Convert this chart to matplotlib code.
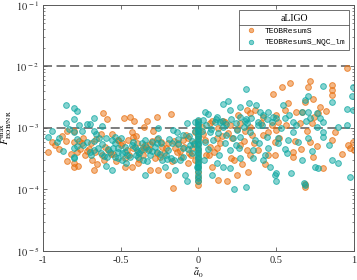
"""
max unfaithfulness vs spin, aLIGO noise
"""
import numpy as np, matplotlib
matplotlib.use("Agg")
import matplotlib.pyplot as plt
from matplotlib.lines import Line2D
from matplotlib.colors import to_rgba

plt.rcParams.update({
    "font.family": "serif", "font.serif": ["Liberation Serif", "DejaVu Serif"],
    "mathtext.fontset": "stix", "font.size": 7.5,
    "xtick.direction": "in", "ytick.direction": "in",
    "xtick.top": True, "ytick.right": True,
})

C = {"teob": "#E8700F", "nqc": "#0FA8A2", "frame": "0.35", "dash": "0.45"}

# ── Data: TEOBResumS (orange) ───────────────────────────────────────────
a0_teob = [
    -0.617, -0.59, -0.843, -0.80, -0.85, -0.944, -0.965, -0.897, -0.80, -0.77,
    -0.744, -0.75, -0.843, -0.80, -0.80, -0.776, -0.76, -0.718, -0.707, -0.686,
    -0.669, -0.654, -0.621, -0.61, -0.579, -0.557, -0.52, -0.63, -0.78, -0.665,
    -0.477, -0.44, -0.415, -0.333, -0.265, -0.18, -0.43, -0.35, -0.295, -0.516,
    -0.452, -0.419, -0.398, -0.387, -0.344, -0.301, -0.269, -0.237, -0.194, -0.129,
    -0.097, -0.065, -0.043, -0.021, -0.473, -0.43, -0.387, -0.312, -0.258, -0.194,
    -0.161, -0.065, -0.46, -0.36, -0.28, -0.22, -0.15, -0.11, -0.08, -0.03,
    -0.50, -0.40, -0.32, -0.24, -0.17, -0.12, -0.05, -0.55, -0.47, -0.36,
    -0.92, -0.88, -0.82, -0.73, -0.69, -0.66, -0.60, -0.56, -0.53, -0.49,
    -0.45, -0.42, -0.38, -0.35, -0.31, -0.27, -0.25, -0.21, -0.16, -0.14,
    -0.09, -0.06, -0.02,
    0.0, 0.0, 0.0, 0.0, 0.0, 0.0, 0.0, 0.0, 0.0, 0.0, 0.0, 0.0, 0.0, 0.0, 0.0,
    0.482, 0.31, 0.364, 0.256, 0.331, 0.417, 0.073, 0.127, 0.202, 0.267,
    0.299, 0.116, 0.073, 0.213, 0.267, 0.31, 0.331, 0.385, 0.45, 0.084,
    0.127, 0.181, 0.245, 0.32, 0.492, 0.417, 0.45, 0.342, 0.03, 0.05,
    0.16, 0.10, 0.23, 0.28, 0.14, 0.19,
    0.02, 0.04, 0.07, 0.09, 0.12, 0.15, 0.17, 0.21, 0.25, 0.29,
    0.33, 0.36, 0.40, 0.43, 0.47,
    0.953, 0.587, 0.534, 0.705, 0.716, 0.856, 0.856, 0.856, 0.576, 0.684,
    0.738, 0.78, 0.663, 0.63, 0.555, 0.77, 0.501, 0.512, 0.652, 0.727,
    0.501, 0.716, 0.759, 0.856, 0.963, 0.974, 0.995, 1.0, 0.608, 0.608,
    0.738, 0.802, 0.49, 0.684, 0.684,
    0.52, 0.56, 0.62, 0.66, 0.70, 0.74, 0.82, 0.88, 0.92,
]
F_teob = [
    1.77e-3, 1.38e-3, 8.9e-4, 8.9e-4, 6.1e-4, 6.0e-4, 4.1e-4, 4.5e-4, 6.0e-4, 6.2e-4,
    7.0e-4, 5.6e-4, 2.95e-4, 2.67e-4, 2.3e-4, 2.45e-4, 4.5e-4, 4.3e-4, 4.5e-4, 3.0e-4,
    2.1e-4, 2.6e-4, 3.6e-4, 3.0e-4, 4.4e-4, 8.0e-4, 6.4e-4, 8.0e-4, 4.1e-4, 4.1e-4,
    1.43e-3, 1.49e-3, 1.3e-3, 1.3e-3, 1.5e-3, 1.7e-3, 8.7e-4, 1.05e-3, 8.9e-4, 6.4e-4,
    6.4e-4, 4.7e-4, 5.6e-4, 4.1e-4, 5.3e-4, 6.2e-4, 3.9e-4, 5.0e-4, 5.6e-4, 5.6e-4,
    6.4e-4, 6.8e-4, 4.7e-4, 3.0e-4, 2.35e-4, 2.35e-4, 2.67e-4, 2.1e-4, 2.1e-4, 1.72e-4,
    1.05e-4, 2.67e-4, 4.4e-4, 3.6e-4, 3.3e-4, 3.9e-4, 4.8e-4, 3.4e-4, 7.8e-4, 5.6e-4,
    5.3e-4, 7.4e-4, 4.6e-4, 6.0e-4, 2.9e-4, 4.2e-4, 3.6e-4, 3.8e-4, 3.2e-4, 5.0e-4,
    5.2e-4, 7.5e-4, 3.8e-4, 3.6e-4, 5.6e-4, 6.6e-4, 5.0e-4, 3.8e-4, 2.9e-4, 5.8e-4,
    3.6e-4, 7.2e-4, 3.1e-4, 4.6e-4, 5.4e-4, 6.6e-4, 3.4e-4, 4.8e-4, 6.2e-4, 4.0e-4,
    5.0e-4, 3.9e-4, 8.5e-4,
    1.3e-3, 1.1e-3, 9.0e-4, 7.5e-4, 6.5e-4, 5.5e-4, 4.6e-4, 3.9e-4, 3.3e-4, 2.8e-4,
    2.35e-4, 1.95e-4, 1.6e-4, 1.35e-4, 1.2e-4,
    3.6e-3, 1.96e-3, 1.96e-3, 1.63e-3, 1.73e-3, 1.53e-3, 1.19e-3, 9.9e-4, 1.12e-3, 1.19e-3,
    9.0e-4, 6.8e-4, 5.0e-4, 6.8e-4, 5.3e-4, 4.4e-4, 3.6e-4, 4.4e-4, 3.6e-4, 2.35e-4,
    1.43e-4, 1.35e-4, 1.72e-4, 1.95e-4, 6.0e-4, 7.7e-4, 8.7e-4, 7.7e-4, 8.0e-4, 3.6e-4,
    1.3e-3, 4.0e-4, 3.0e-4, 2.6e-4, 5.8e-4, 8.2e-4,
    1.05e-3, 6.4e-4, 3.6e-4, 1.3e-3, 4.8e-4, 7.4e-4, 1.25e-3, 3.2e-4, 9.5e-4, 6.2e-4,
    1.05e-3, 5.6e-4, 1.2e-3, 2.6e-4, 1.1e-3,
    9.3e-3, 5.3e-3, 4.6e-3, 4.7e-3, 5.8e-3, 5.0e-3, 4.15e-3, 3.4e-3, 2.52e-3, 2.68e-3,
    3.0e-3, 2.22e-3, 1.84e-3, 1.8e-3, 1.96e-3, 1.73e-3, 1.63e-3, 1.26e-3, 1.19e-3, 1.19e-3,
    9.3e-4, 6.0e-4, 5.1e-4, 6.4e-4, 5.3e-4, 4.7e-4, 6.0e-4, 4.4e-4, 4.1e-4, 3.4e-4,
    3.4e-4, 2.2e-4, 3.6e-4, 1.1e-4, 1.25e-4,
    7.0e-4, 1.1e-3, 6.2e-4, 4.6e-4, 8.8e-4, 1.5e-3, 1.9e-3, 8.5e-4, 3.8e-4,
]

# ── Data: TEOBResumS_NQC_lm (teal) ──────────────────────────────────────
a0_nqc = [
    -0.85, -0.80, -0.78, -0.85, -0.80, -0.77, -0.75, -0.72, -0.70, -0.675,
    -0.62, -0.94, -0.965, -0.90, -0.80, -0.675, -0.675, -0.64, -0.595, -0.557,
    -0.535, -0.80, -0.78, -0.80, -0.74, -0.70, -0.675, -0.645, -0.63, -0.61,
    -0.59, -0.57, -0.55, -0.535, -0.515, -0.595, -0.557, -0.80,
    -0.516, -0.495, -0.473, -0.44, -0.419, -0.398, -0.366, -0.355, -0.344, -0.323,
    -0.312, -0.28, -0.258, -0.237, -0.215, -0.194, -0.172, -0.161, -0.14, -0.15,
    -0.118, -0.097, -0.086, -0.075, -0.075, -0.054, -0.043, -0.021, -0.011, -0.495,
    -0.463, -0.387, -0.258, -0.344, -0.46, -0.41, -0.30, -0.25, -0.20, -0.13,
    -0.10, -0.06, -0.03, -0.52, -0.38, -0.33, -0.27, -0.18,
    -0.91, -0.87, -0.83, -0.78, -0.72, -0.69, -0.66, -0.62, -0.58, -0.54,
    -0.50, -0.47, -0.43, -0.40, -0.37, -0.34, -0.30, -0.27, -0.24, -0.21,
    -0.19, -0.16, -0.13, -0.10, -0.07, -0.04, -0.02,
    0.0, 0.0, 0.0, 0.0, 0.0, 0.0, 0.0, 0.0, 0.0, 0.0, 0.0, 0.0, 0.0, 0.0,
    0.0, 0.0, 0.0, 0.0, 0.0, 0.0, 0.0, 0.0, 0.0, 0.0, 0.0, 0.0,
    0.305, 0.159, 0.187, 0.041, 0.062, 0.202, 0.267, 0.327, 0.37, 0.396,
    0.45, 0.305, 0.31, 0.417, 0.482, 0.105, 0.137, 0.155, 0.073, 0.127,
    0.041, 0.095, 0.17, 0.202, 0.267, 0.116, 0.159, 0.202, 0.084, 0.228,
    0.305, 0.353, 0.364, 0.439, 0.45, 0.417, 0.46, 0.492, 0.331, 0.385,
    0.245, 0.267, 0.02, 0.06, 0.13, 0.18, 0.24, 0.29, 0.035, 0.11,
    0.03, 0.05, 0.08, 0.12, 0.15, 0.18, 0.21, 0.24, 0.27, 0.30,
    0.34, 0.38, 0.41, 0.44, 0.47, 0.22, 0.26, 0.35, 0.39, 0.43,
    0.802, 0.995, 0.856, 0.953, 0.995, 0.705, 0.684, 0.544, 0.663, 0.705,
    0.759, 0.501, 0.555, 0.608, 0.716, 0.802, 0.63, 0.759, 0.953, 0.802,
    0.802, 0.705, 0.608, 0.576, 0.512, 0.512, 0.555, 0.566, 0.663, 0.748,
    0.77, 0.856, 0.899, 0.974, 0.501, 0.501, 0.598, 0.684, 0.985, 0.68,
    0.53, 0.58, 0.64, 0.69, 0.73, 0.78, 0.84, 0.90,
]
F_nqc = [
    2.37e-3, 2.15e-3, 1.9e-3, 1.2e-3, 1.38e-3, 1.12e-3, 8.9e-4, 1.15e-3, 1.15e-3, 1.43e-3,
    1.09e-3, 8.8e-4, 7.1e-4, 6.8e-4, 8.7e-4, 9.0e-4, 6.2e-4, 6.8e-4, 6.8e-4, 6.4e-4,
    7.1e-4, 4.8e-4, 5.1e-4, 3.2e-4, 5.3e-4, 4.0e-4, 4.4e-4, 4.7e-4, 3.9e-4, 3.5e-4,
    3.4e-4, 4.1e-4, 4.7e-4, 3.4e-4, 3.2e-4, 2.4e-4, 2.1e-4, 3.4e-4,
    4.7e-4, 3.9e-4, 5.0e-4, 3.4e-4, 6.0e-4, 4.4e-4, 5.6e-4, 3.0e-4, 1.72e-4, 4.4e-4,
    3.6e-4, 5.0e-4, 6.8e-4, 3.0e-4, 2.35e-4, 4.4e-4, 5.6e-4, 9.3e-4, 8.7e-4, 2.1e-4,
    3.0e-4, 3.4e-4, 1.72e-4, 1.35e-4, 1.19e-3, 5.3e-4, 3.9e-4, 1.26e-3, 2.35e-4, 3.0e-4,
    2.67e-4, 3.4e-4, 9.9e-4, 6.4e-4, 3.7e-4, 4.9e-4, 4.2e-4, 3.8e-4, 3.1e-4, 6.6e-4,
    4.7e-4, 7.3e-4, 5.4e-4, 4.1e-4, 3.9e-4, 2.9e-4, 5.8e-4, 3.2e-4,
    6.0e-4, 4.2e-4, 9.6e-4, 6.6e-4, 6.0e-4, 3.6e-4, 8.0e-4, 5.4e-4, 4.6e-4, 5.8e-4,
    6.8e-4, 4.0e-4, 5.2e-4, 3.6e-4, 4.4e-4, 5.0e-4, 6.0e-4, 4.0e-4, 5.6e-4, 3.6e-4,
    6.6e-4, 3.0e-4, 5.4e-4, 7.8e-4, 4.6e-4, 6.2e-4, 9.0e-4,
    1.35e-3, 1.25e-3, 1.15e-3, 1.05e-3, 9.6e-4, 8.8e-4, 8.0e-4, 7.4e-4, 6.8e-4, 6.2e-4,
    5.7e-4, 5.2e-4, 4.8e-4, 4.4e-4, 4.0e-4, 3.7e-4, 3.4e-4, 3.1e-4, 2.8e-4, 2.6e-4,
    2.4e-4, 2.2e-4, 2.0e-4, 1.75e-4, 1.55e-4, 1.4e-4,
    4.25e-3, 2.45e-3, 2.78e-3, 1.84e-3, 1.67e-3, 1.96e-3, 2.22e-3, 2.52e-3, 2.37e-3, 1.84e-3,
    1.84e-3, 1.38e-3, 1.19e-3, 1.63e-3, 1.53e-3, 1.26e-3, 1.26e-3, 1.05e-3, 8.7e-4, 8.2e-4,
    6.0e-4, 6.4e-4, 5.6e-4, 4.4e-4, 3.2e-4, 2.67e-4, 2.35e-4, 2.2e-4, 1.72e-4, 1.0e-4,
    1.1e-4, 3.2e-4, 6.4e-4, 7.2e-4, 4.7e-4, 3.0e-4, 2.35e-4, 1.72e-4, 8.7e-4, 1.12e-3,
    9.3e-4, 7.2e-4, 9.0e-4, 4.5e-4, 3.6e-4, 7.8e-4, 5.2e-4, 1.02e-3, 3.0e-4, 1.4e-3,
    1.35e-3, 1.1e-3, 9.5e-4, 1.5e-3, 1.3e-3, 1.15e-3, 1.4e-3, 1.2e-3, 1.5e-3, 1.3e-3,
    1.45e-3, 1.25e-3, 1.1e-3, 1.4e-3, 1.25e-3, 6.8e-4, 4.8e-4, 4.4e-4, 5.6e-4, 3.6e-4,
    4.8e-3, 4.6e-3, 2.68e-3, 2.0e-3, 1.96e-3, 3.3e-3, 2.85e-3, 2.37e-3, 1.84e-3, 1.84e-3,
    1.73e-3, 1.43e-3, 1.43e-3, 1.26e-3, 1.43e-3, 1.26e-3, 1.12e-3, 1.05e-3, 1.12e-3, 8.7e-4,
    7.2e-4, 6.8e-4, 8.7e-4, 6.4e-4, 6.8e-4, 5.6e-4, 4.5e-4, 3.9e-4, 3.0e-4, 2.35e-4,
    2.2e-4, 3.0e-4, 2.67e-4, 1.62e-4, 1.83e-4, 1.35e-4, 1.83e-4, 1.18e-4, 3.3e-3, 1.27e-4,
    1.0e-3, 1.6e-3, 6.0e-4, 1.3e-3, 4.2e-4, 1.45e-3, 5.2e-4, 1.05e-3,
]

thresholds = [1e-2, 1e-3]
labels = ["TEOBResumS", "TEOBResumS_NQC_lm"]

fig = plt.figure(figsize=(3.57, 2.80), dpi=100)
ax = fig.add_axes([0.1204, 0.1036, 0.8712, 0.8786])

for t in thresholds:
    ax.axhline(t, color=C["dash"], lw=1.3, ls=(0, (5, 2.5)), zorder=1)

for a, F, col in [(a0_teob, F_teob, C["teob"]), (a0_nqc, F_nqc, C["nqc"])]:
    ax.scatter(a, F, s=17, marker="o", facecolor=to_rgba(col, 0.5),
               edgecolor=to_rgba(col, 0.75), lw=0.7, zorder=2)

ax.set_yscale("log")
ax.set_xlim(-1, 1); ax.set_ylim(1e-5, 1e-1)
ax.set_xticks([-1, -0.5, 0, 0.5, 1])
ax.set_xticklabels(["-1", "-0.5", "0", "0.5", "1"])
ax.set_yticks([1e-5, 1e-4, 1e-3, 1e-2, 1e-1])
ax.set_yticklabels([r"$10^{\,-%d}$" % k for k in [5, 4, 3, 2, 1]])
ax.tick_params(which="both", colors=C["frame"], labelcolor="0.15", labelsize=7.5)
ax.tick_params(which="major", length=3, width=0.6)
ax.tick_params(which="minor", length=1.6, width=0.5)
ax.tick_params(axis="x", which="minor", bottom=False, top=False)
ax.tick_params(axis="y", which="major", pad=2.5)
for s in ax.spines.values():
    s.set_color(C["frame"]); s.set_linewidth(0.7)

ax.set_xlabel(r"$\tilde{a}_0$", fontsize=7.5, labelpad=1)
ax.set_ylabel(r"$F^{\rm max}_{\rm EOB/NR}$", fontsize=7.5)
ax.yaxis.set_label_coords(-0.092, 0.5)

handles = [Line2D([], [], ls="", marker="o", ms=3.2, mfc=to_rgba(c, 0.55),
                  mec=to_rgba(c, 0.75), mew=0.6)
           for c in (C["teob"], C["nqc"])]
leg = ax.legend(handles, labels, title="aLIGO", loc="upper right",
                bbox_to_anchor=(0.985, 0.978), fancybox=False, framealpha=1,
                edgecolor="0.35", prop={"family": "Liberation Mono", "size": 5.8},
                title_fontsize=7, handletextpad=0.6, handlelength=2.2,
                borderpad=0.45, labelspacing=0.5, borderaxespad=0)
leg.get_frame().set_linewidth(0.6)

fig.canvas.draw()
tb = leg.get_title().get_window_extent()
fb = leg.get_frame().get_window_extent()
inv = fig.transFigure.inverted()
x0, y0 = inv.transform((fb.x0, tb.y0 - 2))
x1, _ = inv.transform((fb.x1, tb.y0 - 2))
fig.add_artist(Line2D([x0, x1], [y0, y0], color="0.35", lw=0.6, transform=fig.transFigure))

plt.savefig("out.png", dpi=100)
plt.close()
